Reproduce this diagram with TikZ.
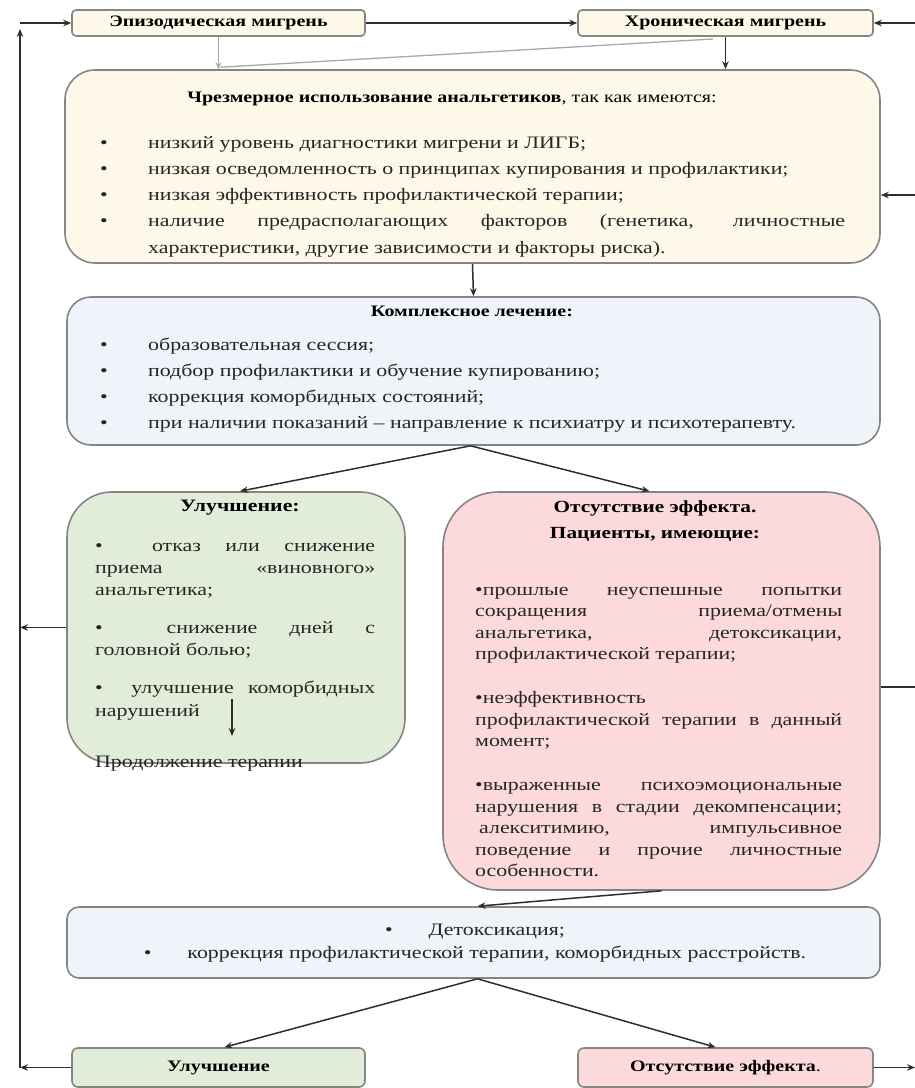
\documentclass[tikz,border=0pt]{standalone}
\usepackage{fontspec}
\setmainfont{Liberation Serif}[FakeStretch=1.25]
\usetikzlibrary{arrows.meta,calc}
\definecolor{cream}{HTML}{FDF8E7}
\definecolor{bluefill}{HTML}{EFF3FA}
\definecolor{greenfill}{HTML}{E2EDD9}
\definecolor{pinkfill}{HTML}{FCDADB}
\definecolor{edgegray}{HTML}{858585}
\definecolor{ink}{HTML}{262626}
\definecolor{lnk}{HTML}{2E2E2E}
\definecolor{glink}{HTML}{A8A8A8}
\newcommand{\ybul}[1]{\noindent\hangindent=48pt\hangafter=1\makebox[48pt][l]{•}#1\par}
\tikzset{
  box/.style={draw=edgegray, line width=1.6pt, inner sep=0pt},
  link/.style={draw=lnk, line width=1.5pt, -{Stealth[length=8pt,width=6.5pt]}},
  plainlink/.style={draw=lnk, line width=1.5pt},
  graylink/.style={draw=glink, line width=1.3pt},
  titletxt/.style={inner sep=0pt, text=black, font=\fontsize{16}{19}\selectfont\bfseries},
  bodytxt/.style={inner sep=0pt, text=ink, align=justify},
  linetxt/.style={inner sep=0pt, text=ink, font=\fontsize{17.5}{23}\selectfont},
}
\begin{document}
\begin{tikzpicture}[x=1pt,y=-1pt]
\useasboundingbox[fill=white] (0,0) rectangle (915,1088);

% boxes
\node[box, fill=cream, rounded corners=4pt, minimum width=293pt, minimum height=26pt, titletxt] (ep) at (218.5,23) {Эпизодическая мигрень};
\node[box, fill=cream, rounded corners=4pt, minimum width=295pt, minimum height=26pt, titletxt] (chr) at (725.5,23) {Хроническая мигрень};
\node[box, fill=cream, rounded corners=30pt, minimum width=815pt, minimum height=193pt] (yel) at (472.5,166.5) {};
\node[box, fill=bluefill, rounded corners=24pt, minimum width=813pt, minimum height=148pt] (blu) at (473.5,371) {};
\node[box, fill=greenfill, rounded corners=45pt, minimum width=338pt, minimum height=271pt] (grn) at (236,627.5) {};
\node[box, fill=pinkfill, rounded corners=55pt, minimum width=437pt, minimum height=398pt] (red) at (661.5,691) {};
\node[box, fill=bluefill, rounded corners=12pt, minimum width=813pt, minimum height=71pt] (det) at (473.5,942.5) {};
\node[box, fill=greenfill, rounded corners=6pt, minimum width=293pt, minimum height=39pt, titletxt] (ul) at (218.5,1067.5) {Улучшение};
\node[box, fill=pinkfill, rounded corners=6pt, minimum width=295pt, minimum height=39pt, titletxt] (rd2) at (725.5,1067.5) {Отсутствие эффекта\textmd{.}};

% yellow box text
\node[inner sep=0pt, anchor=base, font=\fontsize{16}{19}\selectfont] (ytitle) at (452,102) {\textbf{Чрезмерное использование анальгетиков}, так как имеются:};
\node[bodytxt, anchor=base west, text width=745pt, font=\fontsize{17.5}{26.3}\selectfont] (ytext) at (100,148) {%
\ybul{низкий уровень диагностики мигрени и ЛИГБ;}%
\ybul{низкая осведомленность о принципах купирования и профилактики;}%
\ybul{низкая эффективность профилактической терапии;}%
\ybul{наличие предрасполагающих факторов (генетика, личностные\linebreak характеристики, другие зависимости и факторы риска).}};

% blue box text
\node[titletxt, anchor=base] (btitle) at (472,316) {Комплексное лечение:};
\node[bodytxt, anchor=base west, text width=745pt, font=\fontsize{17.5}{26.3}\selectfont] (btext) at (100,350) {%
\ybul{образовательная сессия;}%
\ybul{подбор профилактики и обучение купированию;}%
\ybul{коррекция коморбидных состояний;}%
\ybul{при наличии показаний – направление к психиатру и психотерапевту.}};

% green box text
\node[titletxt, anchor=base, font=\fontsize{17.5}{20}\selectfont\bfseries] (gtitle) at (240,511) {Улучшение:};
\node[bodytxt, anchor=base west, text width=280pt, font=\fontsize{17.5}{22.3}\selectfont] (gtext) at (95,551) {%
\setlength{\parskip}{15.7pt}%
\noindent•\ \ отказ или снижение\linebreak приема «виновного»\linebreak анальгетика;\par
\noindent•\ \ снижение дней с\linebreak головной болью;\par
\noindent•\ \ улучшение коморбидных\linebreak нарушений\par};
\node[linetxt, anchor=base west] (gcont) at (95,767) {Продолжение терапии};
\coordinate (garrowtop) at (232,699);
\coordinate (garrowbot) at (232,736);
\draw[link, line width=1.8pt] (garrowtop) -- (garrowbot);

% red box text
\node[titletxt, anchor=base, font=\fontsize{17}{20}\selectfont\bfseries] (rtitle1) at (655,512) {Отсутствие эффекта.};
\node[titletxt, anchor=base, font=\fontsize{17}{20}\selectfont\bfseries] (rtitle2) at (655,538) {Пациенты, имеющие:};
\node[bodytxt, anchor=base west, text width=367pt, font=\fontsize{17.5}{21.5}\selectfont] (rtext) at (475,595) {%
\setlength{\parskip}{22.5pt}%
\noindent•прошлые неуспешные попытки\linebreak сокращения приема/отмены\linebreak анальгетика, детоксикации,\linebreak профилактической терапии;\par
\noindent•неэффективность\linebreak профилактической терапии в данный\linebreak момент;\par
\noindent•выраженные психоэмоциональные\linebreak нарушения в стадии декомпенсации;\linebreak\hspace*{4pt}алекситимию, импульсивное\linebreak поведение и прочие личностные\linebreak особенности.\par};

% detox text
\node[linetxt, anchor=base] (dt1) at (475,935) {•\hspace{36pt}Детоксикация;};
\node[linetxt, anchor=base] (dt2) at (475,958) {•\hspace{36pt}коррекция профилактической терапии, коморбидных расстройств.};

% helper coordinates
\coordinate (lb) at (20,1067.5);
\coordinate (lup) at (20,29);
\coordinate (lt) at (20,23);
\coordinate (r1) at (915,23);
\coordinate (r2) at (915,195);
\coordinate (g1) at (713,39);

% connectors
\draw[link] (ep) -- (chr);
\draw[graylink, -{Stealth[length=7pt,width=6pt]}] (ep.south) -- (ep.south |- yel.north);
\draw[graylink] (g1) -- ($(ep.south |- yel.north)+(2,-2)$);
\draw[link] (chr.south) -- (chr.south |- yel.north);
\draw[link] (yel.south) -- (blu.north);
\draw[link] ([xshift=-3pt]blu.south) -- ([xshift=4pt]grn.north);
\draw[link] ([xshift=-3pt]blu.south) -- ([xshift=-12pt]red.north);
\draw[link] (red.south) -- ([xshift=4pt]det.north);
\draw[link] ([xshift=4pt]det.south) -- ([xshift=6pt]ul.north);
\draw[link] ([xshift=4pt]det.south) -- ([xshift=-10pt]rd2.north);

% left feedback
\draw[link] (ul.west) -- (lb);
\draw[link] (lb) -- (lup);
\draw[link] (lt) -- (ep.west);
\draw[link] (grn.west) -- (grn.west -| lb);

% right feedback
\draw[link] (r1) -- (chr.east);
\draw[link] (r2) -- (r2 -| yel.east);
\draw[plainlink] ([yshift=4pt]red.east) -- ([yshift=4pt]red.east -| r1);
\draw[link] (rd2.east) -- (rd2.east -| r1);
\end{tikzpicture}
\end{document}
